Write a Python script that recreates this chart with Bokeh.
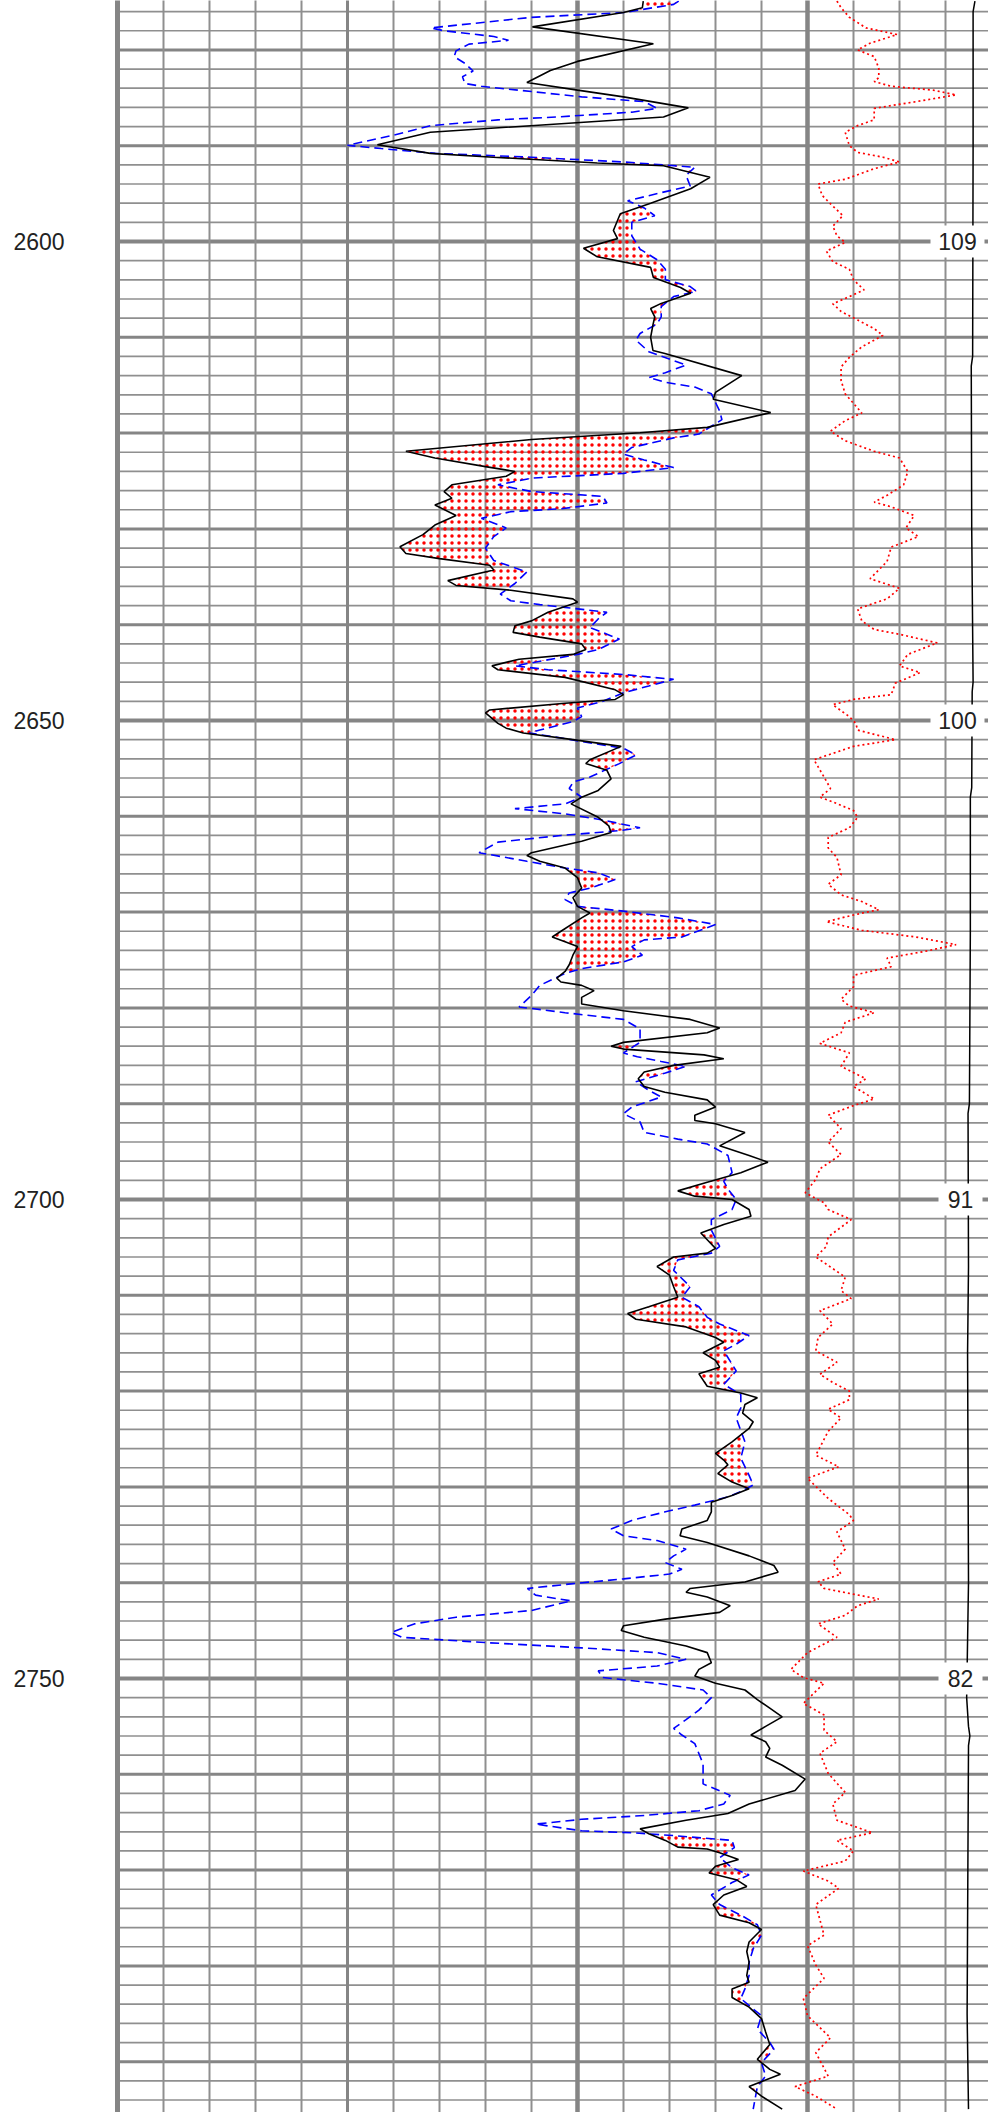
import numpy as np
from bokeh.plotting import figure
from bokeh.models import Range1d
from bokeh.core.properties import value
from bokeh.embed import file_html
from bokeh.resources import INLINE

# ---------------- data ----------------
depth_labels = [2600, 2650, 2700, 2750]
depth_label_text = ["2600", "2650", "2700", "2750"]
index_labels = ["109", "100", "91", "82"]

black_depth = [2574.9, 2575.6, 2576.1, 2577.6, 2579.35, 2581.2, 2582.15, 2583.4, 2584.2, 2584.9,
    2586.05, 2587.0, 2588.6, 2589.9, 2590.8, 2591.2, 2591.8, 2592.1, 2593.3, 2594.5,
    2596.0, 2597.1, 2598.85, 2599.7, 2600.7, 2601.6, 2602.7, 2603.75, 2604.8, 2605.4,
    2606.46, 2607.0, 2607.86, 2608.7, 2610.0, 2611.37, 2611.7, 2614.0, 2615.75, 2616.46,
    2617.86, 2619.4, 2619.96, 2620.67, 2621.9, 2622.6, 2623.5, 2624.0, 2624.5, 2625.4,
    2626.1, 2626.8, 2627.5, 2628.6, 2629.6, 2630.6, 2631.86, 2632.56, 2633.1, 2633.8,
    2634.3, 2635.4, 2635.9, 2636.4, 2637.3, 2637.65, 2638.7, 2639.6, 2640.1, 2640.8,
    2641.3, 2642.0, 2642.6, 2643.1, 2643.6, 2644.3, 2644.7, 2645.5, 2646.8, 2647.3,
    2647.8, 2648.2, 2648.9, 2649.2, 2650.3, 2650.8, 2651.3, 2652.0, 2652.7, 2654.1,
    2654.5, 2655.2, 2656.1, 2657.3, 2658.0, 2658.7, 2660.1, 2661.0, 2661.7, 2662.6,
    2663.8, 2664.1, 2664.7, 2665.4, 2666.4, 2667.5, 2668.5, 2669.4, 2670.1, 2670.6,
    2672.0, 2672.6, 2673.1, 2673.6, 2674.5, 2675.5, 2676.2, 2676.9, 2677.3, 2677.65,
    2678.2, 2678.9, 2679.6, 2680.3, 2681.2, 2682.1, 2682.6, 2683.6, 2684.0, 2684.3,
    2684.9, 2685.3, 2686.0, 2686.7, 2687.4, 2688.2, 2688.8, 2689.6, 2690.35, 2691.2,
    2691.75, 2692.1, 2693.0, 2694.4, 2695.4, 2696.1, 2697.2, 2698.2, 2699.1, 2699.65,
    2700.0, 2701.05, 2701.75, 2702.6, 2703.5, 2704.2, 2705.1, 2705.6, 2706.0, 2707.0,
    2707.9, 2709.1, 2710.2, 2711.2, 2711.9, 2712.5, 2713.3, 2714.4, 2714.9, 2716.0,
    2716.8, 2717.5, 2718.2, 2719.5, 2720.2, 2720.7, 2721.4, 2722.3, 2723.2, 2723.9,
    2725.3, 2726.5, 2727.2, 2727.7, 2728.6, 2729.5, 2730.2, 2730.9, 2731.6, 2732.6,
    2733.5, 2734.4, 2735.1, 2735.8, 2737.2, 2738.2, 2738.9, 2739.93, 2740.6, 2741.0,
    2741.5, 2742.4, 2743.1, 2743.8, 2744.5, 2745.0, 2745.7, 2746.6, 2747.3, 2748.35,
    2749.05, 2749.75, 2750.5, 2751.2, 2752.2, 2753.1, 2754.0, 2755.0, 2755.9, 2756.6,
    2757.3, 2758.2, 2759.05, 2760.5, 2761.7, 2763.1, 2764.1, 2764.8, 2765.7, 2766.2,
    2766.9, 2767.6, 2767.8, 2768.2, 2768.9, 2769.6, 2770.3, 2771.0, 2771.7, 2772.6,
    2773.6, 2774.7, 2775.5, 2776.2, 2777.5, 2778.5, 2779.6, 2781.0, 2781.7, 2782.4,
    2783.3, 2784.3, 2785.5, 2786.9, 2788.2, 2789.75, 2790.8, 2791.3, 2791.9, 2792.6,
    2793.6, 2794.95]
black_value = [11.43, 11.41, 11.0, 9.02, 11.65, 10.0, 9.41, 8.9, 10.0, 11.0,
    12.41, 11.87, 6.8, 5.65, 6.8, 8.17, 10.43, 11.87, 12.88, 12.46,
    11.59, 10.93, 10.78, 10.87, 10.13, 10.43, 11.59, 11.65, 12.24, 12.46,
    11.82, 11.59, 11.68, 11.64, 11.59, 11.64, 11.9, 13.57, 13.0, 12.95,
    14.2, 12.82, 11.36, 9.0, 6.27, 6.9, 8.0, 8.64, 8.45, 7.27,
    7.1, 7.27, 6.9, 7.36, 6.9, 6.64, 6.14, 6.27, 7.0, 8.09,
    8.18, 7.18, 7.36, 8.55, 9.9, 10.0, 9.36, 9.0, 8.64, 8.6,
    9.18, 10.09, 10.18, 9.9, 8.73, 8.14, 8.27, 9.73, 10.82, 11.0,
    10.82, 9.73, 8.09, 8.0, 8.27, 8.45, 8.82, 9.9, 10.95, 10.27,
    10.18, 10.64, 10.73, 10.45, 10.09, 9.86, 10.45, 10.68, 10.73, 10.09,
    9.0, 8.9, 9.18, 9.73, 10.0, 10.09, 9.9, 10.0, 10.27, 10.09,
    9.64, 9.45, 9.73, 10.0, 9.9, 9.82, 9.73, 9.55, 9.64, 10.09,
    10.36, 10.09, 10.09, 11.0, 12.45, 13.09, 12.82, 11.0, 10.73, 11.0,
    12.75, 13.18, 12.09, 11.45, 11.32, 11.45, 11.9, 12.82, 13.0, 12.55,
    12.55, 13.0, 13.64, 13.09, 13.73, 14.14, 13.55, 12.82, 12.18, 12.55,
    13.36, 13.73, 13.77, 13.18, 12.68, 12.82, 13.0, 12.82, 12.09, 11.73,
    12.0, 12.09, 12.18, 11.55, 11.09, 11.27, 12.36, 13.0, 13.18, 12.73,
    13.0, 13.09, 12.64, 12.82, 13.55, 13.91, 13.64, 13.59, 13.82, 13.73,
    13.36, 13.0, 13.18, 13.27, 13.05, 13.36, 13.73, 13.36, 12.91, 12.91,
    12.82, 12.27, 12.23, 12.82, 13.73, 14.27, 14.36, 13.64, 12.45, 12.36,
    12.82, 13.32, 13.09, 11.91, 11.0, 10.95, 11.45, 12.36, 12.82, 12.91,
    12.64, 12.55, 13.0, 13.64, 13.91, 14.18, 14.45, 14.09, 13.77, 14.09,
    14.18, 14.09, 14.45, 14.95, 14.73, 13.73, 13.27, 12.36, 11.36, 11.55,
    11.91, 12.18, 12.82, 13.09, 13.5, 13.0, 12.86, 13.45, 13.68, 13.18,
    12.95, 13.09, 13.73, 14.0, 13.73, 13.68, 13.73, 13.68, 13.73, 13.36,
    13.36, 13.73, 14.0, 14.09, 14.18, 13.91, 14.18, 14.41, 14.09, 13.73,
    14.0, 14.45]

blue_depth = [2574.9, 2575.25, 2576.1, 2576.6, 2577.7, 2578.0, 2578.6, 2579.0, 2579.4, 2580.1,
    2580.7, 2581.4, 2582.2, 2582.8, 2583.5, 2583.8, 2584.35, 2584.9, 2585.4, 2586.1,
    2586.5, 2587.0, 2587.3, 2587.9, 2588.9, 2589.96, 2590.3, 2590.8, 2591.2, 2591.7,
    2592.25, 2593.1, 2594.2, 2594.9, 2595.75, 2596.5, 2597.3, 2598.0, 2599.4, 2600.8,
    2601.9, 2602.9, 2604.0, 2604.7, 2605.2, 2605.75, 2606.8, 2607.86, 2608.6, 2609.6,
    2610.3, 2611.5, 2612.9, 2613.7, 2614.2, 2614.7, 2615.2, 2615.9, 2617.7, 2618.6,
    2620.1, 2620.5, 2621.5, 2622.2, 2622.8, 2623.6, 2624.2, 2624.7, 2625.4, 2626.1,
    2626.6, 2627.3, 2627.9, 2628.2, 2628.9, 2629.9, 2630.8, 2632.0, 2633.3, 2634.5,
    2635.7, 2636.8, 2637.5, 2637.9, 2638.2, 2638.7, 2639.4, 2640.3, 2641.5, 2642.6,
    2643.1, 2644.3, 2644.7, 2645.2, 2645.7, 2646.4, 2647.1, 2648.0, 2648.7, 2649.6,
    2650.1, 2651.0, 2651.3, 2651.9, 2652.9, 2653.6, 2654.5, 2655.9, 2656.4, 2657.1,
    2658.0, 2658.7, 2659.2, 2659.75, 2660.3, 2661.2, 2661.5, 2662.0, 2662.7, 2663.8,
    2664.3, 2664.7, 2665.4, 2665.9, 2666.6, 2667.5, 2668.0, 2668.7, 2669.4, 2669.9,
    2670.6, 2671.3, 2672.6, 2672.9, 2673.6, 2674.5, 2675.2, 2675.9, 2676.4, 2677.65,
    2678.7, 2679.9, 2680.5, 2681.2, 2682.2, 2683.6, 2684.7, 2685.1, 2685.6, 2686.1,
    2686.8, 2687.7, 2688.6, 2689.3, 2690.35, 2691.05, 2691.9, 2693.0, 2693.7, 2694.2,
    2695.4, 2697.2, 2698.1, 2698.9, 2700.0, 2701.05, 2702.1, 2703.2, 2704.9, 2705.6,
    2706.3, 2707.4, 2709.1, 2710.2, 2711.2, 2712.3, 2713.0, 2714.2, 2715.1, 2715.8,
    2717.9, 2719.3, 2720.35, 2721.75, 2722.8, 2725.3, 2727.0, 2728.8, 2729.8, 2730.5,
    2731.05, 2731.9, 2732.6, 2733.5, 2734.4, 2735.1, 2735.6, 2736.5, 2737.2, 2737.9,
    2738.6, 2739.1, 2739.6, 2740.1, 2740.6, 2741.3, 2741.9, 2742.9, 2743.6, 2744.3,
    2745.2, 2745.7, 2746.25, 2746.8, 2747.3, 2748.0, 2748.7, 2749.2, 2749.9, 2750.5,
    2751.2, 2752.0, 2753.3, 2754.3, 2755.2, 2755.9, 2756.8, 2758.9, 2761.0, 2762.2,
    2763.1, 2763.8, 2764.3, 2764.7, 2765.2, 2765.9, 2766.1, 2766.4, 2766.9, 2767.65,
    2768.7, 2769.75, 2770.5, 2771.3, 2772.6, 2773.6, 2774.7, 2775.7, 2776.8, 2778.2,
    2779.6, 2781.0, 2782.4, 2783.4, 2784.5, 2785.2, 2786.6, 2788.0, 2788.7, 2790.1,
    2791.5, 2792.6, 2794.95]
blue_value = [12.2, 12.09, 11.0, 9.0, 6.82, 7.09, 8.18, 8.5, 7.64, 7.36,
    7.32, 7.55, 7.73, 7.5, 7.55, 7.91, 9.0, 10.09, 11.45, 11.73,
    11.18, 9.55, 8.27, 6.82, 6.0, 5.0, 5.73, 6.91, 9.0, 11.0,
    12.55, 12.36, 12.45, 11.82, 11.09, 11.45, 11.68, 11.18, 11.18, 11.36,
    11.73, 11.91, 11.91, 12.45, 12.59, 12.09, 11.82, 11.82, 11.73, 11.36,
    11.27, 11.55, 12.36, 11.91, 11.55, 11.91, 12.55, 12.91, 13.09, 13.14,
    12.64, 12.09, 11.18, 11.0, 11.45, 12.09, 11.0, 9.0, 8.27, 9.0,
    10.55, 10.64, 9.64, 8.55, 7.91, 8.45, 8.18, 8.0, 8.18, 8.9,
    8.64, 8.32, 8.55, 9.18, 9.73, 10.64, 10.45, 10.27, 10.91, 10.45,
    10.0, 8.64, 9.36, 11.0, 12.09, 11.55, 11.0, 10.55, 10.0, 10.09,
    9.91, 9.18, 8.95, 9.73, 11.0, 11.27, 10.91, 10.27, 9.91, 9.82,
    10.09, 9.73, 8.64, 9.73, 10.45, 11.36, 10.91, 9.64, 8.27, 7.86,
    8.45, 8.9, 9.73, 10.45, 10.82, 10.27, 9.82, 9.73, 10.0, 11.0,
    12.18, 13.0, 12.27, 11.45, 11.18, 11.41, 11.0, 10.09, 9.73, 9.18,
    9.0, 8.73, 9.73, 11.0, 11.36, 11.36, 11.0, 11.3, 11.82, 12.36,
    11.91, 11.27, 11.55, 11.82, 11.18, 11.0, 11.36, 11.45, 12.18, 12.82,
    13.27, 13.36, 13.18, 13.27, 13.45, 13.36, 12.91, 12.91, 13.09, 12.91,
    12.18, 12.09, 12.45, 12.27, 12.64, 12.82, 13.09, 13.73, 13.45, 13.18,
    13.45, 13.18, 13.55, 13.55, 13.45, 13.64, 13.55, 13.73, 13.82, 13.55,
    13.27, 12.55, 11.91, 11.18, 10.73, 11.0, 11.73, 12.36, 12.09, 11.91,
    12.27, 12.0, 11.0, 9.91, 8.91, 9.09, 9.86, 9.0, 7.36, 6.45,
    5.95, 6.18, 8.0, 10.09, 11.73, 12.36, 11.73, 10.45, 10.55, 11.73,
    12.73, 12.91, 12.64, 12.36, 12.09, 12.27, 12.55, 12.73, 12.73, 13.32,
    13.18, 12.64, 11.45, 10.09, 9.09, 10.09, 11.18, 12.09, 13.36, 13.41,
    13.09, 13.36, 13.73, 13.36, 12.91, 13.09, 13.55, 13.91, 14.0, 13.82,
    13.73, 13.73, 13.64, 13.55, 13.82, 14.0, 13.91, 14.18, 14.27, 14.0,
    14.09, 13.91, 13.82]

red_depth = [2574.9, 2575.6, 2576.6, 2577.7, 2578.4, 2579.3, 2580.0, 2580.7, 2581.9, 2582.9,
    2583.3, 2583.8, 2584.2, 2584.7, 2585.4, 2586.1, 2587.3, 2587.9, 2588.6, 2590.0,
    2590.7, 2591.2, 2591.7, 2592.4, 2593.5, 2594.0, 2595.2, 2596.3, 2597.3, 2598.4,
    2599.4, 2600.1, 2601.0, 2602.1, 2602.9, 2604.0, 2605.05, 2605.75, 2606.5, 2607.3,
    2608.2, 2609.1, 2609.8, 2611.0, 2612.1, 2613.1, 2614.5, 2615.9, 2617.9, 2618.7,
    2619.8, 2620.8, 2621.9, 2622.6, 2624.0, 2625.4, 2626.5, 2627.2, 2627.7, 2628.6,
    2629.9, 2630.8, 2631.9, 2633.4, 2635.2, 2636.2, 2637.3, 2638.35, 2639.6, 2640.5,
    2641.0, 2641.9, 2643.1, 2644.3, 2645.0, 2646.1, 2647.3, 2647.8, 2648.35, 2649.6,
    2650.3, 2651.0, 2652.0, 2652.7, 2654.1, 2655.9, 2657.1, 2658.0, 2658.5, 2659.4,
    2660.1, 2661.2, 2662.2, 2663.3, 2664.3, 2666.1, 2667.1, 2668.2, 2668.9, 2669.75,
    2670.3, 2671.0, 2671.9, 2672.6, 2673.4, 2674.1, 2674.8, 2675.7, 2676.6, 2677.8,
    2679.1, 2679.8, 2680.5, 2681.5, 2682.6, 2683.7, 2684.7, 2686.1, 2687.4, 2688.2,
    2689.5, 2690.2, 2691.2, 2692.6, 2694.0, 2695.3, 2696.8, 2697.9, 2699.3, 2700.35,
    2701.05, 2702.1, 2703.9, 2704.9, 2706.0, 2708.1, 2709.5, 2710.35, 2711.6, 2713.0,
    2714.4, 2715.8, 2717.0, 2718.25, 2719.1, 2720.0, 2720.9, 2721.9, 2722.8, 2724.2,
    2726.7, 2727.9, 2729.1, 2731.2, 2732.9, 2733.5, 2734.7, 2736.5, 2737.9, 2739.1,
    2739.9, 2740.6, 2741.2, 2741.7, 2742.4, 2743.4, 2744.3, 2745.7, 2747.3, 2749.05,
    2749.9, 2750.5, 2752.6, 2753.8, 2755.4, 2756.6, 2757.8, 2759.9, 2761.9, 2763.1,
    2764.8, 2766.1, 2766.9, 2768.0, 2769.05, 2770.1, 2771.15, 2771.9, 2773.6, 2776.8,
    2777.9, 2779.9, 2781.3, 2783.4, 2785.2, 2787.5, 2789.05, 2791.5, 2792.6, 2793.6,
    2794.95]
red_value = [15.64, 15.73, 15.91, 16.27, 16.95, 16.36, 16.09, 16.45, 16.55, 16.55,
    16.45, 16.82, 17.73, 18.23, 17.36, 16.45, 16.45, 16.09, 15.82, 15.91,
    16.09, 16.64, 17.0, 16.45, 15.82, 15.23, 15.32, 15.55, 15.77, 15.55,
    15.64, 15.82, 15.41, 15.55, 15.91, 16.0, 16.23, 15.91, 15.55, 15.73,
    16.09, 16.45, 16.64, 16.18, 15.91, 15.73, 15.73, 15.82, 16.18, 15.82,
    15.5, 15.82, 16.45, 17.0, 17.18, 17.09, 16.73, 16.45, 16.82, 17.32,
    17.14, 17.41, 16.82, 16.73, 16.36, 17.0, 16.73, 16.09, 16.18, 16.45,
    17.0, 17.82, 17.18, 17.0, 17.45, 16.91, 16.82, 16.0, 15.55, 15.91,
    16.05, 16.09, 16.91, 16.0, 15.14, 15.36, 15.5, 15.27, 15.55, 16.0,
    16.09, 15.91, 15.45, 15.45, 15.64, 15.73, 15.45, 15.73, 16.18, 16.55,
    16.0, 15.41, 16.18, 17.36, 18.23, 17.55, 16.73, 16.82, 16.0, 16.0,
    15.73, 15.91, 16.45, 15.82, 15.73, 15.27, 15.91, 15.73, 16.27, 16.0,
    16.45, 16.0, 15.45, 15.73, 15.45, 15.73, 15.27, 15.18, 14.95, 15.36,
    15.45, 15.95, 15.45, 15.41, 15.18, 15.82, 15.73, 15.95, 15.27, 15.55,
    15.23, 15.18, 15.64, 15.27, 15.55, 15.91, 15.91, 15.45, 15.73, 15.45,
    15.18, 15.68, 15.0, 15.45, 15.91, 16.0, 15.64, 15.82, 15.55, 15.73,
    15.23, 15.36, 16.0, 16.55, 16.09, 15.82, 15.23, 15.64, 15.0, 14.64,
    14.91, 15.36, 14.91, 15.36, 15.36, 15.64, 15.27, 15.45, 15.82, 15.55,
    15.64, 16.41, 15.64, 16.0, 15.82, 14.91, 15.45, 15.68, 15.18, 15.36,
    15.0, 15.18, 15.36, 14.91, 15.0, 15.5, 15.18, 15.45, 14.73, 15.18,
    15.64]

edge_depth = [2574.9, 2576.0, 2590.0, 2612.0, 2613.0, 2630.0, 2646.0, 2647.0, 2657.0, 2658.0,
    2672.0, 2690.0, 2691.0, 2707.0, 2716.0, 2740.0, 2752.0, 2755.0, 2756.0, 2757.0,
    2785.0, 2794.95]
edge_value = [18.64, 18.6, 18.6, 18.59, 18.56, 18.57, 18.6, 18.58, 18.57, 18.54,
    18.54, 18.52, 18.49, 18.5, 18.48, 18.5, 18.46, 18.5, 18.53, 18.5,
    18.47, 18.5]

# ---------------- layout ----------------
PX_PER_DIV = 46.0
PX_PER_M = 9.58
X0_PAGE = 117.0
Y2600_PAGE = 241.0
W, H = 988, 2112
OFF = 0

def xdiv(page_x):
    return (page_x - X0_PAGE) / PX_PER_DIV

def dep(page_y):
    return 2600.0 + (page_y - Y2600_PAGE) / PX_PER_M

p = figure(width=W, height=H, output_backend="svg", toolbar_location=None,
           x_range=Range1d(xdiv(OFF), xdiv(OFF + W)),
           y_range=Range1d(dep(OFF + H), dep(OFF)),
           min_border=0, outline_line_color=None,
           background_fill_color="white", border_fill_color="white")
p.axis.visible = False
p.grid.visible = False

top_d, bot_d = 2570.0, 2800.0
x_right = 21.0

# horizontal grid
minor_d = [d for d in np.arange(2576, 2796, 2) if d % 10 != 0]
major_d = [d for d in np.arange(2580, 2796, 10) if d % 50 != 0]
thick_d = [d for d in np.arange(2600, 2796, 50)]
p.segment(x0=0, x1=x_right, y0=minor_d, y1=minor_d, line_color="#8f8f8f", line_width=1.7)
p.segment(x0=0, x1=x_right, y0=major_d, y1=major_d, line_color="#858585", line_width=3)
p.segment(x0=0, x1=x_right, y0=thick_d, y1=thick_d, line_color="#858585", line_width=4)

# vertical grid
minor_x = [x for x in range(1, 21) if x % 5 != 0]
p.segment(x0=minor_x, x1=minor_x, y0=top_d, y1=bot_d, line_color="#8f8f8f", line_width=2)
p.segment(x0=[5], x1=[5], y0=top_d, y1=bot_d, line_color="#858585", line_width=3)
p.segment(x0=[10, 15], x1=[10, 15], y0=top_d, y1=bot_d, line_color="#858585", line_width=4.5)
p.segment(x0=[0], x1=[0], y0=top_d, y1=bot_d, line_color="#858585", line_width=5)

# shaded area where black curve lies left of blue curve
fine = np.arange(2574.9, 2794.96, 0.05)
b_f = np.interp(fine, black_depth, black_value)
u_f = np.interp(fine, blue_depth, blue_value)
p.harea(y=fine, x1=b_f, x2=np.maximum(b_f, u_f), fill_alpha=0,
        hatch_pattern="dot", hatch_color="#ff0000", hatch_scale=7, hatch_weight=1.0)

# curves
p.line(blue_value, blue_depth, line_color="#0000ff", line_width=1.6, line_dash="9 5")
p.line(black_value, black_depth, line_color="#000000", line_width=1.6)
p.line(red_value, red_depth, line_color="#ff0000", line_width=1.7, line_dash="2 3")
p.line(edge_value, edge_depth, line_color="#000000", line_width=1.5)

# index labels with white boxes
box_w = [54 if len(t) == 3 else 44 for t in index_labels]
box_x = [xdiv(957) if len(t) == 3 else xdiv(960) for t in index_labels]
p.rect(x=box_x, y=depth_labels, width=box_w, height=32, width_units="screen",
       height_units="screen", fill_color="white", line_color=None)
p.text(x=box_x, y=depth_labels, text=index_labels, text_align="center",
       text_baseline="middle", text_font=value("Liberation Sans"),
       text_font_size="23px", text_color="#222222")

# depth labels
p.text(x=[xdiv(13)] * len(depth_labels), y=depth_labels, text=depth_label_text,
       text_align="left", text_baseline="middle", text_font=value("Liberation Sans"),
       text_font_size="23px", text_color="#222222")

open("out.html", "w").write(file_html(p, INLINE))
